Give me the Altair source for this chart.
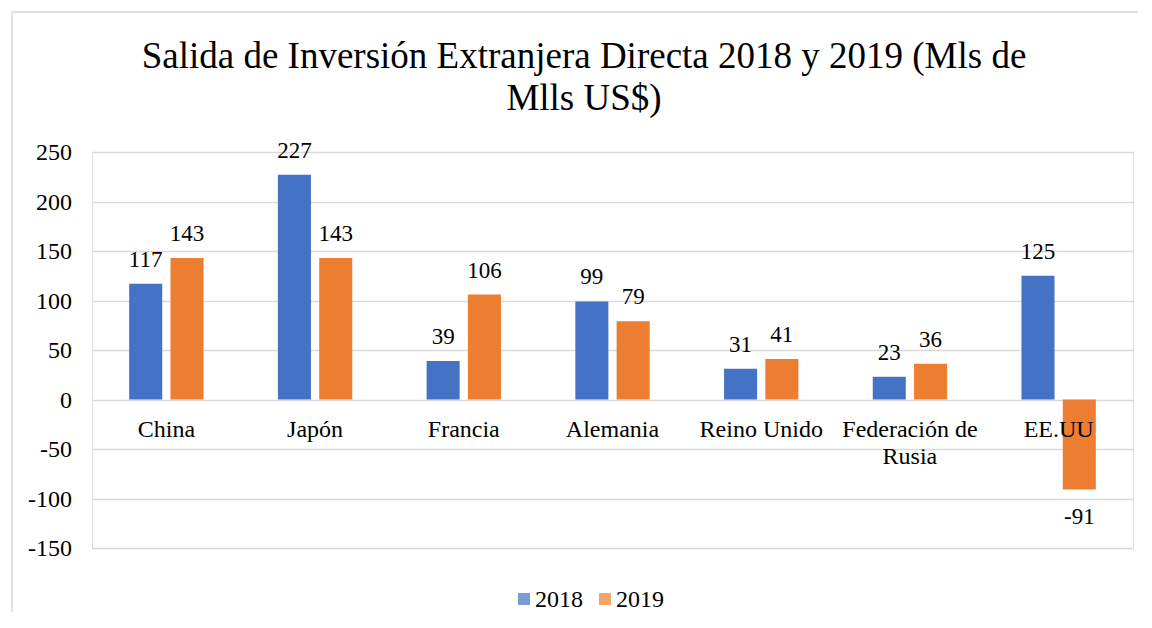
import altair as alt
import pandas as pd

categories = ["China", "Japón", "Francia", "Alemania", "Reino Unido", "Federación de Rusia", "EE.UU"]
cat_labels = ["China", "Japón", "Francia", "Alemania", "Reino Unido", "Federación de\nRusia", "EE.UU"]
years = ["2018", "2019"]
values_2018 = [117, 227, 39, 99, 31, 23, 125]
values_2019 = [143, 143, 106, 79, 41, 36, -91]
colors = ["#4472C4", "#ED7D31"]
y_ticks = [-150, -100, -50, 0, 50, 100, 150, 200, 250]
title_lines = ["Salida de Inversión Extranjera Directa 2018 y 2019 (Mls de", "Mlls US$)"]

FONT = "Liberation Serif"
BLACK = "#000000"

rows = []
for c, v in zip(categories, values_2018):
    rows.append({"cat": c, "year": "2018", "value": v, "txt": str(v)})
for c, v in zip(categories, values_2019):
    rows.append({"cat": c, "year": "2019", "value": v, "txt": str(v)})
df = pd.DataFrame(rows)
df_pos = df[df["value"] >= 0]
df_neg = df[df["value"] < 0]
df_cat = pd.DataFrame({"cat": categories, "label": cat_labels, "zero": [0] * len(categories)})
df_ticks = pd.DataFrame({"tick": y_ticks, "tlabel": [str(t) for t in y_ticks]})

x_enc = alt.X("cat:N", sort=categories, axis=None,
              scale=alt.Scale(paddingInner=0.5, paddingOuter=0.25))
xoff = alt.XOffset("year:N", scale=alt.Scale(paddingInner=0.2, paddingOuter=0))
y_scale = alt.Scale(domain=[-150, 250], nice=False)
y_axis = alt.Axis(values=y_ticks, title=None, domain=False, ticks=False, labels=False,
                  gridColor="#d9d9d9", gridWidth=1.5)

one = pd.DataFrame({"a": [0]})

frame = alt.Chart(one).mark_rect(
    fill=None, stroke="#d9d9d9", strokeWidth=1.5
).encode(x=alt.value(-80), x2=alt.value(1200), y=alt.value(-140), y2=alt.value(800))

bars = alt.Chart(df).mark_bar().encode(
    x=x_enc,
    xOffset=xoff,
    y=alt.Y("value:Q", scale=y_scale, axis=y_axis),
    color=alt.Color("year:N", scale=alt.Scale(domain=years, range=colors), legend=None),
)

tick_text = alt.Chart(df_ticks).mark_text(
    align="right", baseline="alphabetic", dy=8, fontSize=24, font=FONT, color=BLACK
).encode(x=alt.value(-20), y=alt.Y("tick:Q", scale=y_scale, axis=y_axis), text="tlabel:N")

lab_pos = alt.Chart(df_pos).mark_text(
    baseline="alphabetic", dy=-17, fontSize=23, font=FONT, color=BLACK
).encode(x=x_enc, xOffset=xoff, y=alt.Y("value:Q", scale=y_scale, axis=y_axis), text="txt:N")

lab_neg = alt.Chart(df_neg).mark_text(
    baseline="alphabetic", dy=34, fontSize=23, font=FONT, color=BLACK
).encode(x=x_enc, xOffset=xoff, y=alt.Y("value:Q", scale=y_scale, axis=y_axis), text="txt:N")

cat_text = alt.Chart(df_cat).mark_text(
    baseline="alphabetic", dy=37, fontSize=24, font=FONT, color=BLACK, lineBreak="\n", lineHeight=27
).encode(x=x_enc, y=alt.Y("zero:Q", scale=y_scale, axis=y_axis), text="label:N")

title1 = alt.Chart(one).mark_text(
    align="center", baseline="alphabetic", fontSize=37, font=FONT, color=BLACK
).encode(x=alt.value(492), y=alt.value(-84), text=alt.value(title_lines[0]))
title2 = alt.Chart(one).mark_text(
    align="center", baseline="alphabetic", fontSize=37, font=FONT, color=BLACK
).encode(x=alt.value(492), y=alt.value(-42), text=alt.value(title_lines[1]))

leg_sq1 = alt.Chart(one).mark_square(size=144, color=colors[0]).encode(
    x=alt.value(432), y=alt.value(447))
leg_sq2 = alt.Chart(one).mark_square(size=144, color=colors[1]).encode(
    x=alt.value(513), y=alt.value(447))
leg_t1 = alt.Chart(one).mark_text(
    align="left", baseline="alphabetic", fontSize=24, font=FONT, color=BLACK
).encode(x=alt.value(443), y=alt.value(455), text=alt.value(years[0]))
leg_t2 = alt.Chart(one).mark_text(
    align="left", baseline="alphabetic", fontSize=24, font=FONT, color=BLACK
).encode(x=alt.value(524), y=alt.value(455), text=alt.value(years[1]))

chart = alt.layer(
    frame, bars, tick_text, lab_pos, lab_neg, cat_text,
    title1, title2, leg_sq1, leg_sq2, leg_t1, leg_t2
).properties(
    width=1041, height=396,
    autosize=alt.AutoSizeParams(type="none"),
    padding={"left": 84, "top": 144, "right": 5, "bottom": 64},
).configure_view(stroke=None).configure(background="white")

chart.save("out.html", embed_options={"renderer": "svg", "actions": False})
